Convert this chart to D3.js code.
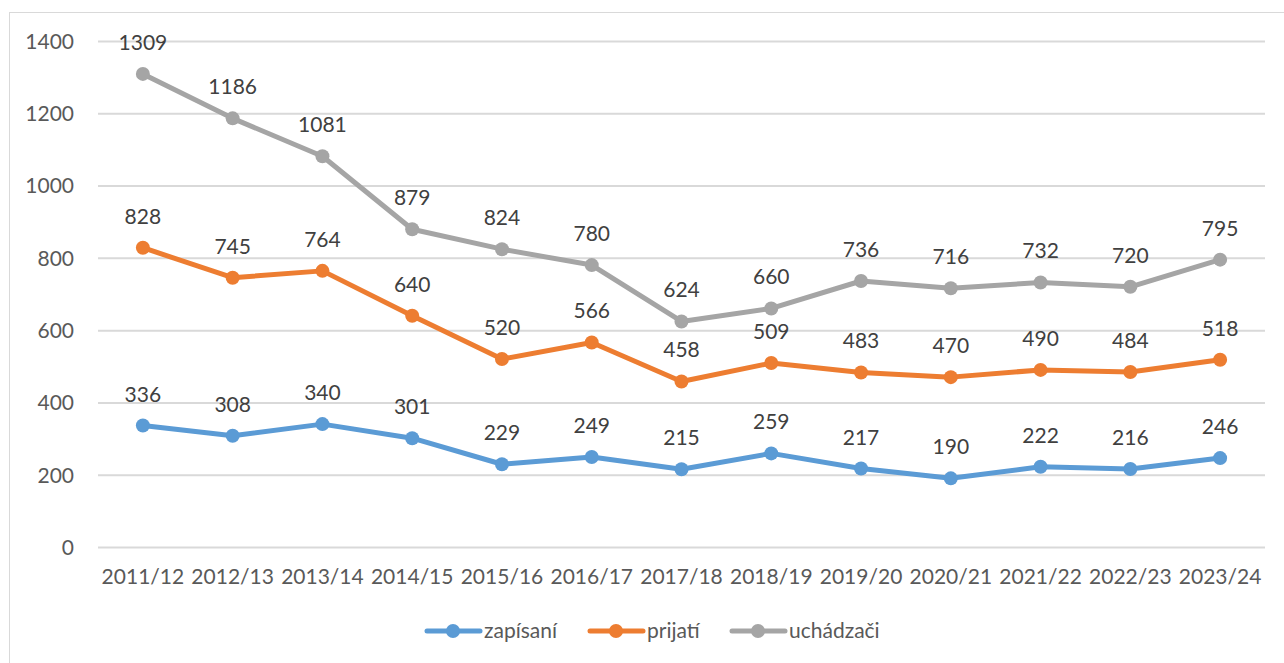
<!DOCTYPE html>
<html><head><meta charset="utf-8">
<script src="https://cdn.jsdelivr.net/npm/d3@7"></script>
<style>body{margin:0;background:#fff;} svg{display:block;font-family:Lato, "Open Sans", sans-serif;}</style>
</head><body>
<svg id="c" width="1284" height="663"></svg>
<script>
const categories = ["2011/12","2012/13","2013/14","2014/15","2015/16","2016/17","2017/18","2018/19","2019/20","2020/21","2021/22","2022/23","2023/24"];
const zapisani = [336,308,340,301,229,249,215,259,217,190,222,216,246];
const prijati = [828,745,764,640,520,566,458,509,483,470,490,484,518];
const uchadzaci = [1309,1186,1081,879,824,780,624,660,736,716,732,720,795];
const yTicks = [0,200,400,600,800,1000,1200,1400];
const seriesNames = ["zapísaní","prijatí","uchádzači"];
const colors = ["#5B9BD5","#ED7D31","#A5A5A5"];

const svg = d3.select("#c");
svg.append("rect").attr("x",9.5).attr("y",12.5).attr("width",1300).attr("height",700)
  .attr("fill","none").attr("stroke","#D9D9D9");

const x = d3.scaleBand().domain(categories).range([98,1265]);
const y = d3.scaleLinear().domain([0,1400]).range([547,41]);

const gy = svg.append("g").attr("transform","translate(98,0)")
  .call(d3.axisLeft(y).tickValues(yTicks).tickFormat(d3.format("d")).tickSize(-(1265-98)).tickPadding(24));
gy.select(".domain").remove();
gy.selectAll(".tick line").attr("stroke","#D9D9D9").attr("stroke-width",2);
gy.selectAll(".tick text").attr("fill","#595959").style("font-size","21px").attr("font-family","Lato").attr("dy","0.35em");

const gx = svg.append("g").attr("transform","translate(0,547)")
  .call(d3.axisBottom(x).tickSize(0).tickPadding(22));
gx.select(".domain").remove();
gx.selectAll(".tick text").attr("fill","#595959").style("font-size","21px").attr("font-family","Lato").attr("dy","0.71em");

const data = [zapisani, prijati, uchadzaci];
const cx = d => x(d) + x.bandwidth()/2;
const line = d3.line().x((d,i)=>cx(categories[i])).y(d=>y(d));
data.forEach((vals,k)=>{
  svg.append("path").datum(vals).attr("d",line).attr("fill","none")
    .attr("stroke",colors[k]).attr("stroke-width",5).attr("stroke-linejoin","round").attr("stroke-linecap","round");
  svg.selectAll(null).data(vals).enter().append("circle")
    .attr("cx",(d,i)=>cx(categories[i])).attr("cy",d=>y(d)).attr("r",7).attr("fill",colors[k]);
});
data.forEach((vals,k)=>{
  svg.selectAll(null).data(vals).enter().append("text")
    .attr("x",(d,i)=>cx(categories[i])).attr("y",d=>y(d)-24)
    .attr("text-anchor","middle").attr("fill","#404040").style("font-size","21px").text(d=>d);
});

// legend
const lg = svg.append("g");
const legX = [425,588,730];
seriesNames.forEach((n,k)=>{
  const g = lg.append("g").attr("transform",`translate(${legX[k]},631)`);
  g.append("line").attr("x1",2).attr("x2",55).attr("stroke",colors[k]).attr("stroke-width",5).attr("stroke-linecap","round");
  g.append("circle").attr("cx",28).attr("r",7).attr("fill",colors[k]);
  g.append("text").attr("x",59).attr("dy","0.35em").attr("fill","#595959").style("font-size","21px").text(n);
});
</script>
</body></html>
